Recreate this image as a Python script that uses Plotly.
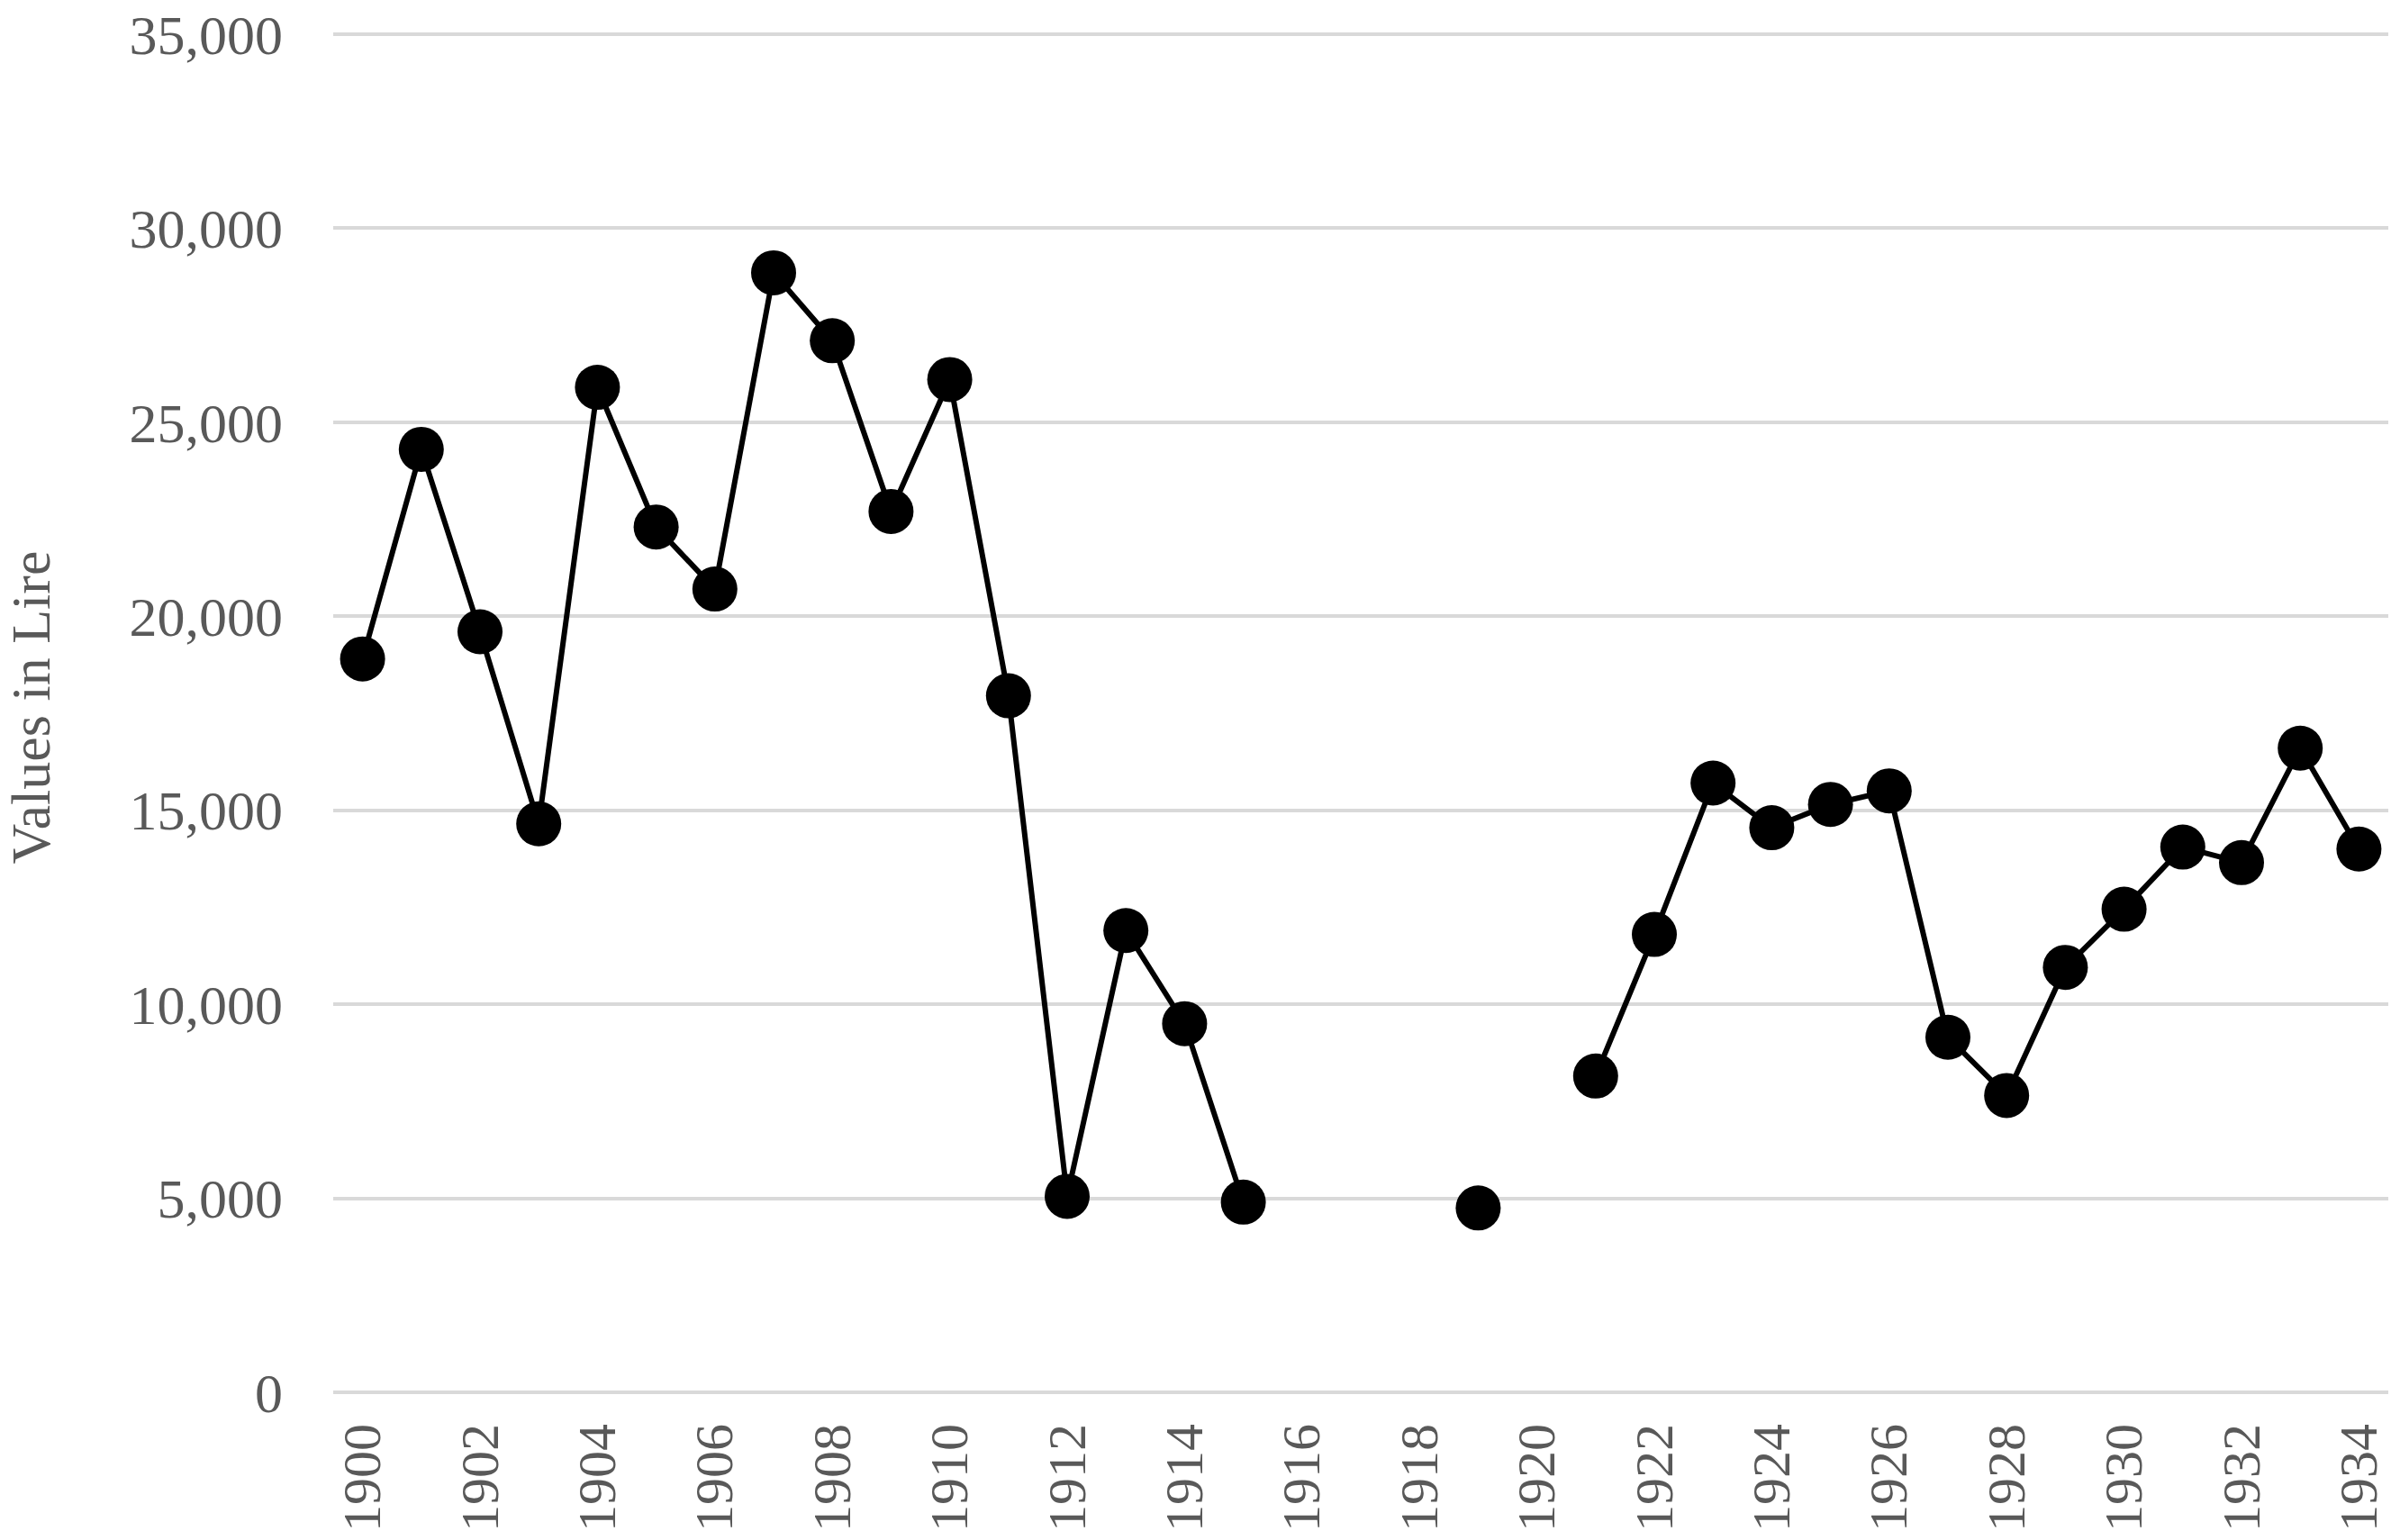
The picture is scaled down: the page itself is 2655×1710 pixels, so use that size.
import plotly.graph_objects as go

years = [str(y) for y in range(1900, 1935)]
values = [18900, 24300, 19600, 14650, 25900, 22300, 20700, 28850, 27100, 22700,
          26100, 17950, 5050, 11900, 9500, 4900, None, None, None, 4750,
          None, 8150, 11800, 15700, 14550, 15150, 15500, 9150, 7650, 10950,
          12450, 14050, 13650, 16600, 14000]
y_ticks = [0, 5000, 10000, 15000, 20000, 25000, 30000, 35000]
y_labels = ["0", "5,000", "10,000", "15,000", "20,000", "25,000", "30,000", "35,000"]
x_tick_labels = [str(y) for y in range(1900, 1935, 2)]

font_family = "Liberation Serif, Times New Roman, serif"
text_color = "#595959"

fig = go.Figure(go.Scatter(
    x=years, y=values, mode="lines+markers",
    line=dict(color="black", width=6),
    marker=dict(color="black", size=50),
    connectgaps=False,
    cliponaxis=False,
))

fig.update_layout(
    width=2655, height=1710,
    margin=dict(l=370, r=3, t=25, b=164),
    plot_bgcolor="white", paper_bgcolor="white",
    showlegend=False,
    font=dict(family=font_family, size=62, color=text_color),
)
fig.update_xaxes(
    type="category", categoryorder="array", categoryarray=years,
    range=[-0.5, len(years) - 0.5], automargin=False,
    tickmode="array", tickvals=x_tick_labels, ticktext=x_tick_labels,
    tickangle=-90, showgrid=False, showline=False, zeroline=False,
    ticks="", ticklabelstandoff=22, ticklabeloverflow="allow",
    tickfont=dict(family=font_family, size=60, color=text_color),
)
fig.update_yaxes(
    range=[0, 35300], automargin=False,
    tickmode="array", tickvals=y_ticks, ticktext=y_labels,
    showgrid=True, gridcolor="#d9d9d9", gridwidth=4,
    zeroline=True, zerolinecolor="#d9d9d9", zerolinewidth=4,
    showline=False, ticks="", ticklabelstandoff=55, ticklabeloverflow="allow",
    tickfont=dict(family=font_family, size=62, color=text_color),
    title=dict(text="Values in Lire", standoff=70,
               font=dict(family=font_family, size=62, color=text_color)),
)

fig.write_html("out.html")
